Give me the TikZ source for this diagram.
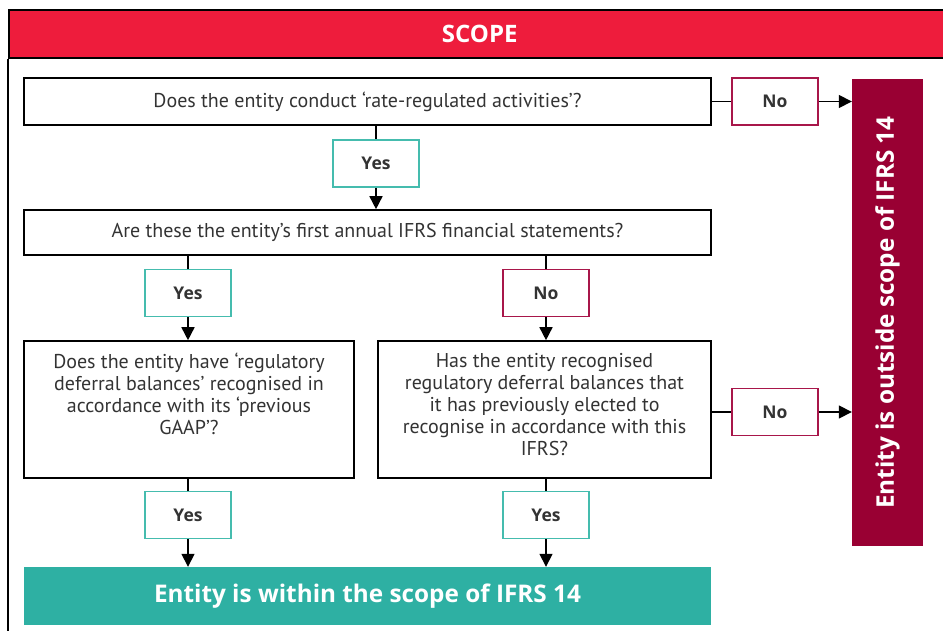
\documentclass[tikz,border=0pt]{standalone}
\usepackage{fontspec}
\setmainfont{PT Sans}
\newfontfamily\labelfont{Open Sans}
\usetikzlibrary{arrows.meta,positioning}
\definecolor{scopered}{HTML}{EE1C3C}
\definecolor{outred}{HTML}{990033}
\definecolor{nored}{HTML}{A8164A}
\definecolor{inteal}{HTML}{2EB0A3}
\definecolor{yesteal}{HTML}{45BCAE}
\definecolor{txtgray}{HTML}{333333}
\tikzstyle{question} = [rectangle, draw, line width=1.6pt, text=txtgray,
      font=\fontsize{20}{22}\selectfont, inner sep=0pt]
\tikzstyle{qtext} = [align=center, text=txtgray,
      font=\fontsize{20}{22}\selectfont, inner sep=0pt, anchor=north]
\tikzstyle{yesbox} = [rectangle, draw=yesteal, line width=1.6pt, fill=white,
      minimum width=86pt, minimum height=47pt, text=txtgray,
      font=\labelfont\bfseries\fontsize{17.5}{20}\selectfont]
\tikzstyle{nobox} = [yesbox, draw=nored]
\tikzstyle{result} = [rectangle, text=white, font=\labelfont\bfseries\fontsize{24.3}{27}\selectfont]
\tikzstyle{line} = [draw, line width=1.6pt]
\tikzstyle{arrow} = [line, -{Triangle[width=13pt,length=13pt]}]

\begin{document}
\begin{tikzpicture}[x=1pt, y=-1pt]
	  \clip (0,0) rectangle (943,631);
	  % Frame
	  \node [fill=scopered, draw, line width=1.5pt, minimum width=942pt, minimum height=48pt,
	        anchor=west, text=white, font=\labelfont\bfseries\fontsize{24}{27}\selectfont] (header) at (8,34) {SCOPE};
	  \draw [line width=1.5pt] (header.south west) -- (8,640);
	  % Nodes
	  \node [question, minimum width=687pt, minimum height=47pt] (q1) at (367.5,101.5) {Does the entity conduct ‘rate-regulated activities’?};
	  \node [nobox] (no1) at (775,101.5) {No};
	  \node [yesbox] (yes1) at (376,163.5) {Yes};
	  \node [question, minimum width=687pt, minimum height=45pt] (q2) at (367.5,232.5) {Are these the entity’s first annual IFRS financial statements?};
	  \node [yesbox] (yes2) at (188,293) {Yes};
	  \node [nobox] (no2) at (546,293) {No};
	  \node [question, minimum width=330pt, minimum height=137pt] (q3) at (189,409.5) {};
	  \node [qtext, below=13pt of q3.north] (q3text) {Does the entity have ‘regulatory\\ deferral balances’ recognised in\\ accordance with its ‘previous\\ GAAP’?};
	  \node [question, minimum width=333pt, minimum height=137pt] (q4) at (544.5,409.5) {};
	  \node [qtext, below=13pt of q4.north] (q4text) {Has the entity recognised\\ regulatory deferral balances that\\ it has previously elected to\\ recognise in accordance with this\\ IFRS?};
	  \node [nobox] (no3) at (775,412) {No};
	  \node [yesbox] (yes3) at (188,515) {Yes};
	  \node [yesbox] (yes4) at (546,515) {Yes};
	  \node [result, fill=inteal, minimum width=687pt, minimum height=58pt] (within) at (367.5,596) {Entity is within the scope of IFRS 14};
	  \node [result, fill=outred, minimum width=467pt, minimum height=71pt, rotate=90] (outside) at (887.5,312.5) {Entity is outside scope of IFRS 14};
	  % Connectors
	  \path [line] (q1.east) -- (no1.west);
	  \path [arrow] (no1.east) -- (no1.east -| outside.north);
	  \path [line] (q1.south -| yes1.north) -- (yes1.north);
	  \path [arrow] (yes1.south) -- (yes1.south |- q2.north);
	  \path [line] (q2.south -| yes2.north) -- (yes2.north);
	  \path [arrow] (yes2.south) -- (yes2.south |- q3.north);
	  \path [line] (q2.south -| no2.north) -- (no2.north);
	  \path [arrow] (no2.south) -- (no2.south |- q4.north);
	  \path [line] (no3.west -| q4.east) -- (no3.west);
	  \path [arrow] (no3.east) -- (no3.east -| outside.north);
	  \path [line] (q3.south -| yes3.north) -- (yes3.north);
	  \path [arrow] (yes3.south) -- (yes3.south |- within.north);
	  \path [line] (q4.south -| yes4.north) -- (yes4.north);
	  \path [arrow] (yes4.south) -- (yes4.south |- within.north);
\end{tikzpicture}
\end{document}
